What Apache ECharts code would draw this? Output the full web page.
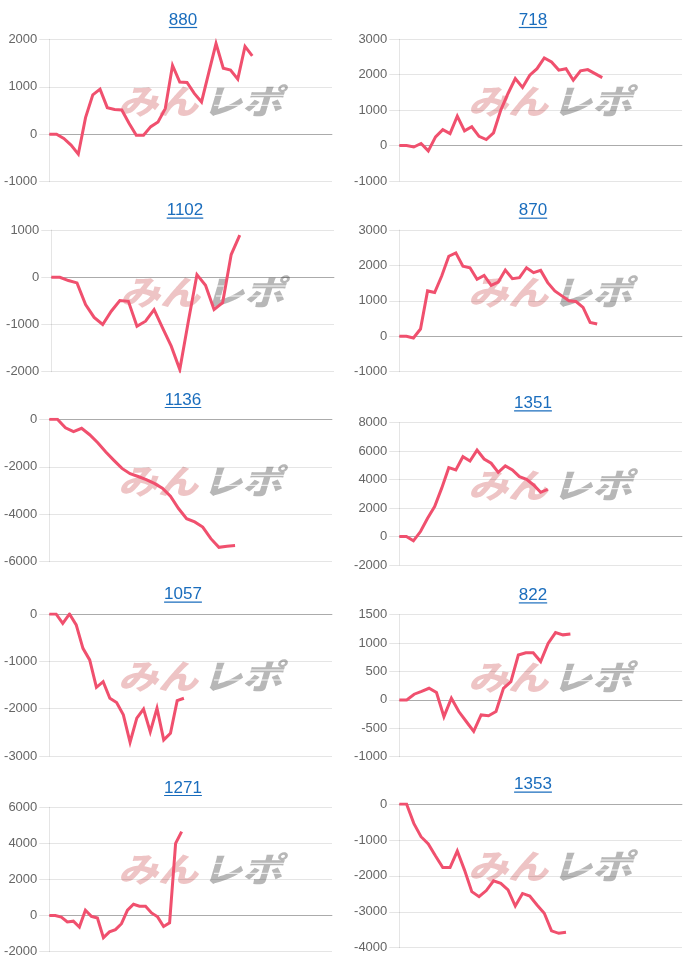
<!DOCTYPE html>
<html><head><meta charset="utf-8">
<script src="https://cdn.jsdelivr.net/npm/echarts@6/dist/echarts.min.js"></script>
<style>html,body{margin:0;padding:0;background:#fff}#c{width:700px;height:962px}</style>
</head><body><div id="c"></div>
<script>
// ---- data ----
const titles = ['880', '718', '1102', '870', '1136', '1351', '1057', '822', '1271', '1353'];
const d880  = [0, 0, -90, -230, -420, 350, 830, 950, 560, 520, 510, 230, -20, -20, 160, 260, 540, 1450, 1100, 1090, 860, 680, 1300, 1910, 1390, 1350, 1160, 1850, 1650];
const d718  = [0, 0, -40, 60, -150, 245, 450, 340, 830, 415, 530, 260, 170, 360, 1000, 1470, 1890, 1640, 1985, 2170, 2475, 2360, 2130, 2170, 1845, 2110, 2145, 2030, 1920];
const d1102 = [0, 0, -70, -120, -580, -850, -1000, -720, -495, -510, -1040, -930, -685, -1075, -1460, -1955, -930, 55, -170, -685, -540, 480, 890];
const d870  = [0, 0, -50, 205, 1280, 1235, 1700, 2260, 2355, 1980, 1935, 1610, 1720, 1440, 1530, 1870, 1625, 1655, 1935, 1795, 1860, 1515, 1280, 1140, 1000, 980, 815, 390, 345];
const d1136 = [0, 0, -360, -520, -380, -650, -990, -1375, -1730, -2070, -2290, -2410, -2540, -2700, -2900, -3240, -3760, -4190, -4325, -4540, -5030, -5395, -5350, -5320];
const d1351 = [0, 0, -300, 350, 1290, 2100, 3400, 4840, 4680, 5610, 5310, 6070, 5450, 5150, 4510, 4960, 4680, 4210, 4020, 3625, 3110, 3320];
const d1057 = [0, 0, -200, 0, -230, -725, -970, -1550, -1430, -1780, -1870, -2130, -2710, -2200, -2010, -2490, -1990, -2660, -2520, -1830, -1780];
const d822  = [0, 0, 100, 150, 205, 130, -295, 30, -205, -380, -555, -265, -280, -205, 205, 320, 790, 830, 830, 675, 995, 1185, 1145, 1160];
const d1271 = [0, 0, -80, -350, -310, -630, 300, -40, -130, -1220, -900, -780, -450, 300, 630, 520, 520, 150, -70, -600, -400, 4000, 4650];
const d1353 = [0, 0, -540, -910, -1110, -1450, -1770, -1770, -1310, -1840, -2440, -2580, -2410, -2140, -2210, -2390, -2840, -2490, -2560, -2810, -3040, -3530, -3600, -3570];
const seriesData = [d880, d718, d1102, d870, d1136, d1351, d1057, d822, d1271, d1353];
// number of x categories per chart (x labels are hidden)
const xCounts = [40, 40, 34, 41, 36, 41, 43, 39, 48, 40];
// y axis ranges
const yMins      = [-1000, -1000, -2000, -1000, -6000, -2000, -3000, -1000, -2000, -4000];
const yMaxs      = [2000, 3000, 1000, 3000, 0, 8000, 0, 1500, 6000, 0];
const yIntervals = [1000, 1000, 1000, 1000, 2000, 2000, 1000, 500, 2000, 1000];

// ---- layout ----
const layout = [
  {col: 0, top: 39.3, h: 142.4, dx: 0},
  {col: 1, top: 39.3, h: 141.7, dx: 0},
  {col: 0, top: 230, h: 141.7, dx: 2},
  {col: 1, top: 230, h: 141.7, dx: 0},
  {col: 0, top: 419.3, h: 142.4, dx: 0},
  {col: 1, top: 422.7, h: 142.3, dx: 0},
  {col: 0, top: 614, h: 142, dx: 0},
  {col: 1, top: 614.7, h: 142, dx: 0},
  {col: 0, top: 807.3, h: 144.4, dx: 0},
  {col: 1, top: 804, h: 143.7, dx: 0}
];
const FONT = 'Arial, "Liberation Sans", Helvetica, sans-serif';
const LINE_COLOR = '#f0506e';
const TITLE_COLOR = '#1a6dbd';

const mctx = document.createElement('canvas').getContext('2d');
mctx.font = '17px ' + FONT;

const grids = [], xAxes = [], yAxes = [], series = [], graphics = [];
seriesData.forEach((data, i) => {
  const L = layout[i];
  const colX = L.col * 350 + L.dx;
  grids.push({left: colX + 49.3, top: L.top, width: 282.7, height: L.h, containLabel: false});
  const cats = Array.from({length: xCounts[i]}, (_, k) => String(k + 1));
  xAxes.push({
    type: 'category', gridIndex: i, data: cats, boundaryGap: false,
    axisLine: {show: true, onZero: true, lineStyle: {color: 'rgba(0,0,0,0.25)', width: 1}},
    axisTick: {show: false}, axisLabel: {show: false}, splitLine: {show: false}
  });
  yAxes.push({
    type: 'value', gridIndex: i, min: yMins[i], max: yMaxs[i], interval: yIntervals[i],
    axisLine: {show: true, lineStyle: {color: 'rgba(0,0,0,0.1)', width: 1}},
    axisTick: {show: true, length: 10, lineStyle: {color: 'rgba(0,0,0,0.1)'}},
    axisLabel: {color: '#666', fontSize: 13, fontFamily: FONT, margin: 12, formatter: v => String(v)},
    splitLine: {show: true, lineStyle: {color: 'rgba(0,0,0,0.1)', width: 1}}
  });
  series.push({
    type: 'line', xAxisIndex: i, yAxisIndex: i, data: data,
    showSymbol: false, smooth: false, silent: true, z: 5,
    lineStyle: {color: LINE_COLOR, width: 3, join: 'miter'}
  });
  // title + underline
  const tx = L.col * 350 + 183 + L.dx;
  const ty = L.top - 19.3;
  const tw = mctx.measureText(titles[i]).width;
  graphics.push({
    type: 'text', x: tx, y: ty, z: 10,
    style: {text: titles[i], fill: TITLE_COLOR, font: '17px ' + FONT, textAlign: 'center', textVerticalAlign: 'middle'}
  });
  graphics.push({
    type: 'line', z: 10,
    shape: {x1: tx - tw / 2, y1: ty + 7.5, x2: tx + tw / 2, y2: ty + 7.5},
    style: {stroke: TITLE_COLOR, lineWidth: 1.2}
  });
  // watermark (site logo)
  const wx = colX + 200;
  const wy = L.top + 62;
  graphics.push({
    type: 'text', x: wx - 2, y: wy, z: -2, scaleY: 0.85,
    style: {text: 'みん', fill: 'rgba(228,160,162,0.62)', font: 'italic 900 40px "Noto Sans CJK JP"', textAlign: 'right', textVerticalAlign: 'middle'}
  });
  graphics.push({
    type: 'text', x: wx + 2, y: wy, z: -2, scaleY: 0.85,
    style: {text: 'レポ', fill: 'rgba(165,165,165,0.8)', font: 'italic 900 40px "Noto Sans CJK JP"', textAlign: 'left', textVerticalAlign: 'middle'}
  });
  [-6, 4].forEach(off => {
    graphics.push({
      type: 'line', z: -1,
      shape: {x1: wx + 14, y1: wy + off, x2: wx + 92, y2: wy + off},
      style: {stroke: '#fff', lineWidth: 0.9}
    });
  });
});

const chart = echarts.init(document.getElementById('c'), null, {renderer: 'canvas'});
chart.setOption({
  animation: false,
  backgroundColor: '#fff',
  grid: grids, xAxis: xAxes, yAxis: yAxes, series: series, graphic: graphics
});
</script></body></html>
